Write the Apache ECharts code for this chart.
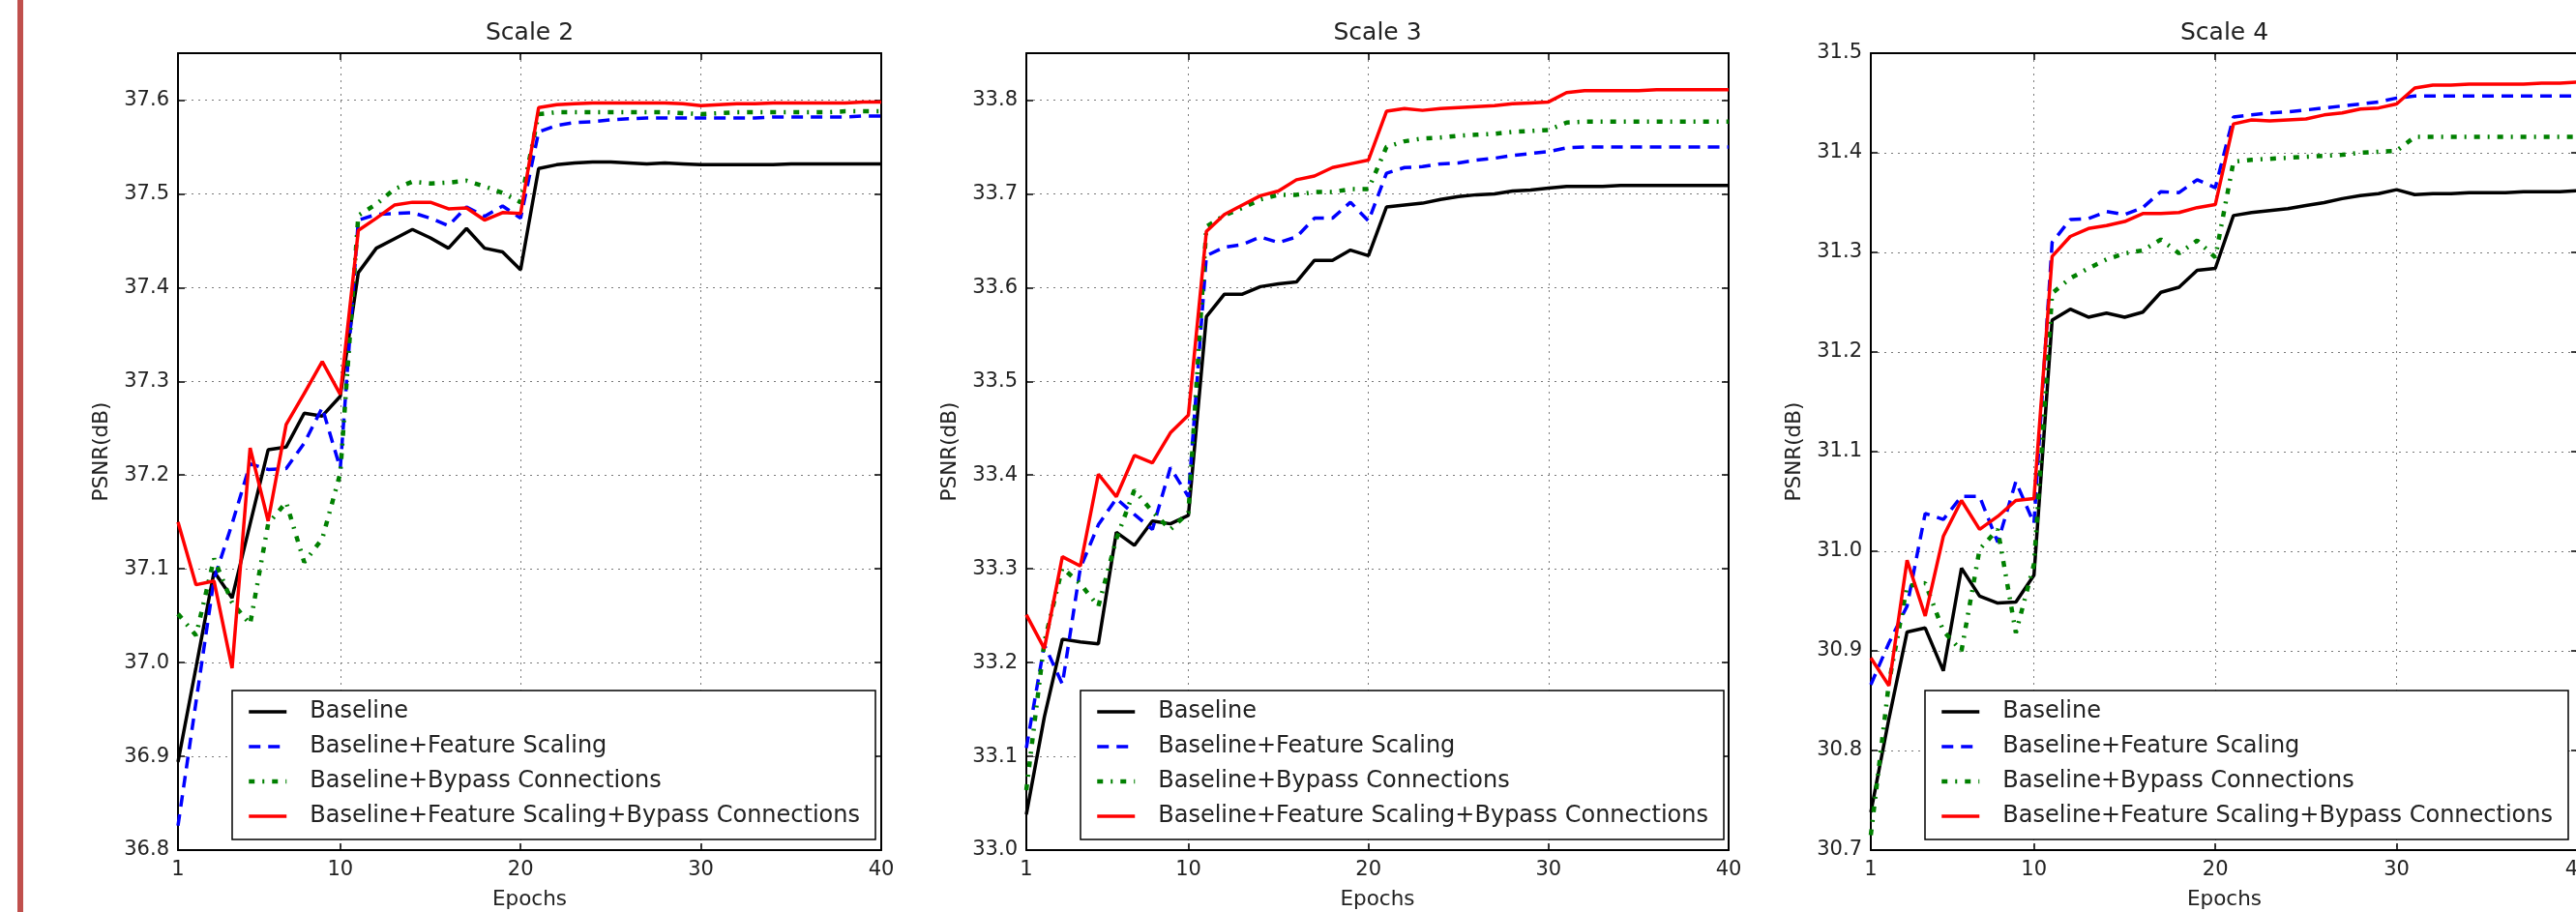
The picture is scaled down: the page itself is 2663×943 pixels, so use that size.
<!DOCTYPE html>
<html>
<head>
<meta charset="utf-8">
<title>PSNR vs Epochs</title>
<script src="https://cdn.jsdelivr.net/npm/echarts@6/dist/echarts.min.js"></script>
<style>
  html, body { margin: 0; padding: 0; background: #fff; }
  #chart { width: 2663px; height: 943px; }
</style>
</head>
<body>
<div id="chart"></div>
<script>
const epochs = [1, 2, 3, 4, 5, 6, 7, 8, 9, 10, 11, 12, 13, 14, 15, 16, 17, 18, 19, 20,
  21, 22, 23, 24, 25, 26, 27, 28, 29, 30, 31, 32, 33, 34, 35, 36, 37, 38, 39, 40]
const xTicks = [1, 10, 20, 30, 40]
const seriesNames = [
  'Baseline',
  'Baseline+Feature Scaling',
  'Baseline+Bypass Connections',
  'Baseline+Feature Scaling+Bypass Connections'
]

// Scale 2
const scale2Baseline = [36.894, 36.995, 37.097, 37.069, 37.148, 37.227, 37.230, 37.266, 37.263, 37.284,
  37.416, 37.442, 37.452, 37.462, 37.453, 37.442, 37.463, 37.442, 37.438, 37.419,
  37.527, 37.531, 37.533, 37.534, 37.534, 37.533, 37.532, 37.533, 37.532, 37.531,
  37.531, 37.531, 37.531, 37.531, 37.532, 37.532, 37.532, 37.532, 37.532, 37.532]
const scale2Scaling = [36.826, 36.958, 37.089, 37.148, 37.212, 37.206, 37.207, 37.234, 37.272, 37.207,
  37.472, 37.478, 37.479, 37.480, 37.474, 37.466, 37.486, 37.476, 37.487, 37.474,
  37.566, 37.573, 37.576, 37.577, 37.579, 37.580, 37.581, 37.581, 37.581, 37.581,
  37.581, 37.581, 37.581, 37.582, 37.582, 37.582, 37.582, 37.582, 37.583, 37.583]
const scale2Bypass = [37.052, 37.029, 37.111, 37.064, 37.041, 37.148, 37.171, 37.107, 37.132, 37.202,
  37.477, 37.489, 37.505, 37.513, 37.511, 37.512, 37.514, 37.508, 37.501, 37.491,
  37.585, 37.587, 37.587, 37.587, 37.587, 37.587, 37.587, 37.587, 37.586, 37.585,
  37.586, 37.587, 37.587, 37.587, 37.587, 37.587, 37.587, 37.588, 37.588, 37.588]
const scale2Both = [37.150, 37.083, 37.087, 36.994, 37.229, 37.151, 37.254, 37.287, 37.321, 37.286,
  37.461, 37.474, 37.488, 37.491, 37.491, 37.484, 37.485, 37.472, 37.480, 37.479,
  37.592, 37.595, 37.596, 37.597, 37.597, 37.597, 37.597, 37.597, 37.596, 37.594,
  37.595, 37.596, 37.596, 37.597, 37.597, 37.597, 37.597, 37.597, 37.598, 37.598]

// Scale 3
const scale3Baseline = [33.038, 33.142, 33.225, 33.222, 33.220, 33.339, 33.325, 33.351, 33.348, 33.357,
  33.569, 33.593, 33.593, 33.601, 33.604, 33.606, 33.629, 33.629, 33.640, 33.634,
  33.686, 33.688, 33.690, 33.694, 33.697, 33.699, 33.700, 33.703, 33.704, 33.706,
  33.708, 33.708, 33.708, 33.709, 33.709, 33.709, 33.709, 33.709, 33.709, 33.709]
const scale3Scaling = [33.109, 33.219, 33.177, 33.301, 33.347, 33.375, 33.358, 33.342, 33.408, 33.377,
  33.634, 33.643, 33.646, 33.654, 33.648, 33.654, 33.674, 33.674, 33.691, 33.671,
  33.722, 33.728, 33.729, 33.732, 33.733, 33.736, 33.738, 33.741, 33.743, 33.745,
  33.749, 33.750, 33.750, 33.750, 33.750, 33.750, 33.750, 33.750, 33.750, 33.750]
const scale3Bypass = [33.064, 33.222, 33.301, 33.284, 33.260, 33.332, 33.384, 33.361, 33.342, 33.360,
  33.665, 33.677, 33.685, 33.694, 33.699, 33.699, 33.702, 33.702, 33.705, 33.705,
  33.750, 33.756, 33.759, 33.760, 33.762, 33.763, 33.764, 33.766, 33.767, 33.768,
  33.776, 33.777, 33.777, 33.777, 33.777, 33.777, 33.777, 33.777, 33.777, 33.777]
const scale3Both = [33.251, 33.215, 33.313, 33.303, 33.401, 33.377, 33.421, 33.413, 33.445, 33.464,
  33.660, 33.678, 33.688, 33.698, 33.703, 33.715, 33.719, 33.728, 33.732, 33.736,
  33.788, 33.791, 33.789, 33.791, 33.792, 33.793, 33.794, 33.796, 33.797, 33.798,
  33.808, 33.810, 33.810, 33.810, 33.810, 33.811, 33.811, 33.811, 33.811, 33.811]

// Scale 4
const scale4Baseline = [30.738, 30.832, 30.919, 30.923, 30.880, 30.983, 30.955, 30.948, 30.949, 30.976,
  31.232, 31.243, 31.235, 31.239, 31.235, 31.240, 31.260, 31.265, 31.282, 31.284,
  31.337, 31.340, 31.342, 31.344, 31.347, 31.350, 31.354, 31.357, 31.359, 31.363,
  31.358, 31.359, 31.359, 31.360, 31.360, 31.360, 31.361, 31.361, 31.361, 31.362]
const scale4Scaling = [30.866, 30.908, 30.945, 31.038, 31.032, 31.055, 31.055, 31.009, 31.070, 31.028,
  31.310, 31.333, 31.334, 31.341, 31.338, 31.345, 31.361, 31.360, 31.373, 31.365,
  31.436, 31.438, 31.440, 31.441, 31.443, 31.445, 31.447, 31.449, 31.451, 31.455,
  31.457, 31.457, 31.457, 31.457, 31.457, 31.457, 31.457, 31.457, 31.457, 31.457]
const scale4Bypass = [30.715, 30.868, 30.965, 30.968, 30.920, 30.900, 31.002, 31.022, 30.918, 30.987,
  31.259, 31.274, 31.284, 31.293, 31.299, 31.302, 31.313, 31.299, 31.312, 31.295,
  31.391, 31.393, 31.394, 31.395, 31.396, 31.397, 31.398, 31.400, 31.401, 31.402,
  31.416, 31.416, 31.416, 31.416, 31.416, 31.416, 31.416, 31.416, 31.416, 31.416]
const scale4Both = [30.893, 30.865, 30.991, 30.935, 31.015, 31.051, 31.022, 31.035, 31.051, 31.053,
  31.296, 31.316, 31.324, 31.327, 31.331, 31.339, 31.339, 31.340, 31.345, 31.348,
  31.429, 31.433, 31.432, 31.433, 31.434, 31.438, 31.440, 31.444, 31.445, 31.449,
  31.465, 31.468, 31.468, 31.469, 31.469, 31.469, 31.469, 31.470, 31.470, 31.471]

const panels = [
  { title: 'Scale 2', left: 184, width: 727, yMin: 36.8, yMax: 37.65,
    lines: [scale2Baseline, scale2Scaling, scale2Bypass, scale2Both] },
  { title: 'Scale 3', left: 1061, width: 726, yMin: 33.0, yMax: 33.85,
    lines: [scale3Baseline, scale3Scaling, scale3Bypass, scale3Both] },
  { title: 'Scale 4', left: 1934, width: 731, yMin: 30.7, yMax: 31.5,
    lines: [scale4Baseline, scale4Scaling, scale4Bypass, scale4Both] }
]

const lineStyles = [
  { color: '#000000', width: 3.5, type: 'solid' },
  { color: '#0000ff', width: 3.5, type: [12, 8] },
  { color: '#008000', width: 4.5, type: [6, 8, 2, 8] },
  { color: '#ff0000', width: 3.5, type: 'solid' }
]

const font = 'DejaVu Sans'
const textColor = '#222'
const plotTop = 55
const plotHeight = 824

const spine = { show: true, onZero: false, lineStyle: { color: '#000', width: 2 } }
const ticks = { show: true, inside: true, length: 7, lineStyle: { color: '#000', width: 1.5 } }
const gridLine = { show: true, lineStyle: { color: '#7a7a7a', width: 1, type: [2, 5] } }
const noMarker = { color: 'rgba(0,0,0,0)', borderColor: 'rgba(0,0,0,0)', borderWidth: 0, opacity: 0 }

const grid = []
const xAxis = []
const yAxis = []
const title = []
const legend = []
const series = []

panels.forEach((p, i) => {
  grid.push({ left: p.left, top: plotTop, width: p.width, height: plotHeight, outerBoundsMode: 'none', containLabel: false })

  title.push({
    text: p.title,
    left: p.left + p.width / 2 - 5,
    top: 17,
    textAlign: 'center',
    textStyle: { fontSize: 25, fontWeight: 'normal', color: textColor, fontFamily: font }
  })

  const xBase = { type: 'value', gridIndex: i, min: 1, max: 40 }
  xAxis.push({
    ...xBase,
    position: 'bottom',
    axisLine: spine,
    axisTick: { ...ticks, customValues: xTicks },
    axisLabel: { customValues: xTicks, fontSize: 21, color: textColor, fontFamily: font, margin: 10 },
    splitLine: gridLine,
    name: 'Epochs',
    nameLocation: 'middle',
    nameGap: 40,
    nameTextStyle: { fontSize: 21.5, color: textColor, fontFamily: font }
  })
  xAxis.push({
    ...xBase,
    position: 'top',
    axisLine: spine,
    axisTick: { ...ticks, customValues: xTicks },
    axisLabel: { show: false },
    splitLine: { show: false }
  })

  const yBase = { type: 'value', gridIndex: i, min: p.yMin, max: p.yMax, interval: 0.1 }
  yAxis.push({
    ...yBase,
    position: 'left',
    axisLine: spine,
    axisTick: ticks,
    axisLabel: {
      fontSize: 21, color: textColor, fontFamily: font, margin: 9,
      showMaxLabel: p.title === 'Scale 4',
      formatter: v => v.toFixed(1)
    },
    splitLine: gridLine,
    name: 'PSNR(dB)',
    nameLocation: 'middle',
    nameGap: 68,
    nameTextStyle: { fontSize: 21.5, color: textColor, fontFamily: font }
  })
  yAxis.push({
    ...yBase,
    position: 'right',
    axisLine: spine,
    axisTick: ticks,
    axisLabel: { show: false },
    splitLine: { show: false }
  })

  p.lines.forEach((vals, k) => {
    series.push({
      name: seriesNames[k],
      type: 'line',
      xAxisIndex: 2 * i,
      yAxisIndex: 2 * i,
      data: epochs.map((e, j) => [e, vals[j]]),
      symbol: 'none',
      lineStyle: lineStyles[k],
      itemStyle: { color: lineStyles[k].color },
      animation: false,
      silent: true
    })
  })

  legend.push({
    orient: 'vertical',
    left: p.left + 56,
    top: 714,
    itemWidth: 39,
    itemHeight: 14,
    itemGap: 12,
    padding: [10, 16, 12, 15],
    backgroundColor: '#fff',
    borderColor: '#000',
    borderWidth: 1.5,
    borderRadius: 0,
    selectedMode: false,
    itemStyle: noMarker,
    textStyle: { fontSize: 24, color: textColor, fontFamily: font, padding: [0, 0, 0, 19] },
    data: seriesNames.map((n, k) => ({
      name: n,
      itemStyle: noMarker,
      lineStyle: { width: lineStyles[k].width, opacity: 1 }
    }))
  })
})

const chart = echarts.init(document.getElementById('chart'))
chart.setOption({
  backgroundColor: '#fff',
  animation: false,
  title,
  grid,
  xAxis,
  yAxis,
  legend,
  series,
  graphic: [
    { type: 'rect', left: 18, top: 0, shape: { width: 6, height: 943 }, style: { fill: '#c0504d' } }
  ]
})
</script>
</body>
</html>
